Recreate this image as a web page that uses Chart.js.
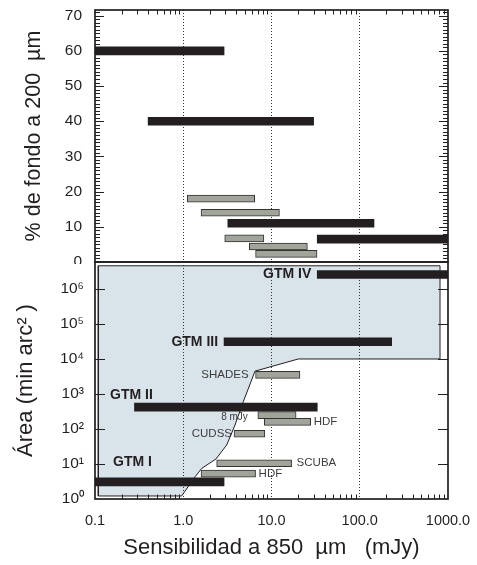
<!DOCTYPE html>
<html>
<head>
<meta charset="utf-8">
<title>Sensibilidad a 850 µm</title>
<script src="https://cdn.jsdelivr.net/npm/chart.js@4.4.1/dist/chart.umd.min.js"></script>
<style>
  html, body { margin: 0; background: #fff; }
  #wrap { position: relative; width: 477px; height: 565px; }
  canvas { position: absolute; left: 0; }
  #topChart { top: 0; }
  #areaChart { top: 260px; }
</style>
</head>
<body>
<div id="wrap">
  <canvas id="topChart" width="477" height="264"></canvas>
  <canvas id="areaChart" width="477" height="305"></canvas>
</div>
<script>
// ---- axes ----
const xTicks      = [0.1, 1, 10, 100, 1000];
const xTickLabels = ['0.1', '1.0', '10.0', '100.0', '1000.0'];
const pctTicks    = [0, 10, 20, 30, 40, 50, 60, 70];
const areaTicks   = [1, 10, 100, 1e3, 1e4, 1e5, 1e6];

// ---- upper panel: % of the 200 um background ----
const pctBlackLevel = [60, 40, 11, 6.5];
const pctBlackFrom  = [0.05, 0.40, 3.2, 33];
const pctBlackTo    = [2.9, 30, 145, 3000];
const pctGrayLevel  = [18, 14, 6.7, 4.4, 2.3];
const pctGrayFrom   = [1.11, 1.59, 2.95, 5.6, 6.6];
const pctGrayTo     = [6.45, 12.3, 8.2, 25.5, 32.8];

// ---- lower panel: survey area ----
const gtmNames    = ['GTM IV', 'GTM III', 'GTM II', 'GTM I'];
const gtmArea     = [2.6e6, 3.1e4, 420, 3.1];
const gtmFrom     = [33, 2.9, 0.28, 0.05];
const gtmTo       = [3000, 230, 33, 2.9];
const surveyNames = ['SHADES', '8 mJy', 'HDF', 'CUDSS', 'SCUBA', 'HDF'];
const surveyArea  = [3500, 250, 160, 73, 10.5, 5.3];
const surveyFrom  = [6.6, 7.0, 8.3, 3.76, 2.39, 1.59];
const surveyTo    = [21, 19, 27.8, 8.4, 16.9, 6.6];

// shaded region (upper and lower boundary)
const regionTopX = [0.109, 812];
const regionTopY = [4.6e6, 4.6e6];
const regionLowX = [0.109, 0.96, 1.36, 1.62, 2.35, 3.11, 3.86, 4.79, 6.5, 20.1, 812];
const regionLowY = [1.22, 1.22, 4.3, 7.5, 13.9, 35, 130, 600, 4500, 1e4, 1e4];

const INK  = '#231f20';
const GRAY = '#a0a499';
const FONT = "'Liberation Sans', Arial, Helvetica, sans-serif";
Chart.defaults.font.family = FONT;
Chart.defaults.color = INK;
Chart.defaults.animation = false;

const SUP = ['\u2070', '\u00b9', '\u00b2', '\u00b3', '\u2074', '\u2075', '\u2076'];
const pts = (xs, ys) => xs.map((x, i) => ({x, y: ys[i]}));
const spans = (from, to, lv) => from.map((f, i) => ({x: [f, to[i]], y: lv[i]}));

// dotted guides only at 1, 10 and 100 mJy
const guideColor = c => (c.tick && c.tick.value > 0.1 && c.tick.value < 1000) ? '#333' : 'rgba(0,0,0,0)';

function xScale(showLabels) {
  return {
    type: 'logarithmic', min: 0.1, max: 1000, beginAtZero: false, stacked: false,
    afterBuildTicks: s => { s.ticks = xTicks.map(v => ({value: v})); },
    grid: { color: guideColor, lineWidth: 1, drawTicks: false },
    border: { display: false, dash: [1, 2] },
    ticks: { display: showLabels, autoSkip: false, maxRotation: 0, padding: 13,
             font: {size: 14.5}, callback: (v, i) => xTickLabels[i] },
  };
}

// frame with inward tick marks
function makeFrame(edge, yMarks) {
  return {
    id: 'frame',
    afterDatasetsDraw(chart) {
      const {ctx, chartArea: a, scales: {x, y}} = chart;
      ctx.save();
      ctx.strokeStyle = INK;
      ctx.lineWidth = 1;
      ctx.beginPath();
      const e = edge === 'top' ? a.top : a.bottom;
      const dir = edge === 'top' ? 1 : -1;
      for (let d = 0.1; d < 1000; d *= 10) {
        for (let m = 2; m < 10; m++) {
          const px = Math.round(x.getPixelForValue(m * d)) + 0.5;
          ctx.moveTo(px, e); ctx.lineTo(px, e + dir * 4.5);
        }
      }
      yMarks.forEach(([v, len]) => {
        const py = Math.round(y.getPixelForValue(v)) + 0.5;
        ctx.moveTo(a.left, py); ctx.lineTo(a.left + len, py);
        ctx.moveTo(a.right, py); ctx.lineTo(a.right - len, py);
      });
      ctx.stroke();
      ctx.lineWidth = 1.7;
      ctx.strokeRect(a.left, a.top, a.right - a.left, a.bottom - a.top);
      ctx.restore();
    }
  };
}

const pctMarks = [];
for (let v = 1; v <= 71; v++) pctMarks.push([v, v % 10 === 0 ? 9 : 5]);
const areaMarks = areaTicks.slice(1).map(v => [v, 10]);

// bar names
const gtmPlace    = [null, null, [0.148, 936], [0.16, 11]];  // null = just left of the bar
const surveySide  = ['left', 'left', 'right', 'left', 'right', 'right'];
const surveyGap   = [7, 10, 3, 2, 5, 3];
const surveyDy    = [0, 2, 0, 0, 0, 0];

const notes = {
  id: 'notes',
  afterDatasetsDraw(chart) {
    const {ctx, scales: {x, y}} = chart;
    ctx.save();
    ctx.textBaseline = 'middle';
    ctx.fillStyle = INK;
    ctx.font = 'bold 14px ' + FONT;
    gtmNames.forEach((name, i) => {
      const p = gtmPlace[i];
      if (p) {
        ctx.textAlign = 'left';
        ctx.fillText(name, x.getPixelForValue(p[0]), y.getPixelForValue(p[1]));
      } else {
        ctx.textAlign = 'right';
        ctx.fillText(name, x.getPixelForValue(gtmFrom[i]) - 6, y.getPixelForValue(gtmArea[i]));
      }
    });
    ctx.fillStyle = '#3d3d3d';
    surveyNames.forEach((name, i) => {
      ctx.font = (name === '8 mJy' ? '10px ' : '11.5px ') + FONT;
      const py = y.getPixelForValue(surveyArea[i]) + surveyDy[i];
      if (surveySide[i] === 'left') {
        ctx.textAlign = 'right';
        ctx.fillText(name, x.getPixelForValue(surveyFrom[i]) - surveyGap[i], py);
      } else {
        ctx.textAlign = 'left';
        ctx.fillText(name, x.getPixelForValue(surveyTo[i]) + surveyGap[i], py);
      }
    });
    ctx.restore();
  }
};

const noPad = s => { s.paddingTop = 0; s.paddingBottom = 0; s.paddingLeft = 0; s.paddingRight = 0; };

const grayBars = data => ({
  type: 'bar', indexAxis: 'y', data, backgroundColor: GRAY, borderColor: '#333',
  borderWidth: 1, borderSkipped: false, barThickness: 7, stack: 'bars', order: 1
});
const blackBars = data => ({
  type: 'bar', indexAxis: 'y', data, backgroundColor: INK, borderWidth: 0,
  borderSkipped: false, barThickness: 8, stack: 'bars', order: 0
});

// ---- upper chart ----
new Chart(document.getElementById('topChart'), {
  type: 'line',
  data: { datasets: [
    grayBars(spans(pctGrayFrom, pctGrayTo, pctGrayLevel)),
    blackBars(spans(pctBlackFrom, pctBlackTo, pctBlackLevel)),
  ]},
  options: {
    responsive: false, events: [],
    layout: { padding: {left: 0, right: 29, top: 10, bottom: 2} },
    plugins: { legend: {display: false}, tooltip: {enabled: false} },
    scales: {
      x: { ...xScale(false), afterFit: s => { s.height = 0; noPad(s); } },
      y: {
        type: 'linear', min: 0, max: 71.6, offset: false,
        afterBuildTicks: s => { s.ticks = pctTicks.map(v => ({value: v})); },
        afterFit: s => { s.width = 95; noPad(s); },
        grid: { display: false, drawTicks: false, offset: false },
        border: { display: false },
        ticks: { padding: 13, font: {size: 15.5} },
        title: { display: true, text: '% de fondo a 200  µm', font: {size: 21.5}, padding: {top: 21} },
      }
    }
  },
  plugins: [makeFrame('top', pctMarks)]
});

// ---- lower chart ----
const outline = [...pts(regionLowX, regionLowY), ...pts(regionTopX, regionTopY).reverse()];
outline.push(outline[0]);

new Chart(document.getElementById('areaChart'), {
  type: 'line',
  data: { datasets: [
    { data: pts(regionTopX, regionTopY), fill: '+1', backgroundColor: '#d9e3ea',
      borderColor: 'rgba(0,0,0,0)', borderWidth: 0, pointRadius: 0, order: 3 },
    { data: pts(regionLowX, regionLowY), fill: false,
      borderColor: 'rgba(0,0,0,0)', borderWidth: 0, pointRadius: 0, order: 3 },
    { data: outline, fill: false, borderColor: INK, borderWidth: 1, pointRadius: 0, order: 2 },
    grayBars(spans(surveyFrom, surveyTo, surveyArea)),
    blackBars(spans(gtmFrom, gtmTo, gtmArea)),
  ]},
  options: {
    responsive: false, events: [],
    layout: { padding: {left: 0, right: 29, top: 2, bottom: 0} },
    plugins: { legend: {display: false}, tooltip: {enabled: false}, filler: {drawTime: 'beforeDraw'} },
    scales: {
      x: {
        ...xScale(true),
        afterFit: s => { s.height = 66; noPad(s); },
        title: { display: true, text: 'Sensibilidad a 850  µm   (mJy)', font: {size: 22}, padding: {bottom: 4} },
      },
      y: {
        type: 'logarithmic', min: 1, max: 5.9e6, offset: false,
        afterBuildTicks: s => { s.ticks = areaTicks.map(v => ({value: v})); },
        afterFit: s => { s.width = 95; noPad(s); },
        grid: { display: false, drawTicks: false, offset: false },
        border: { display: false },
        ticks: { padding: 11, font: {size: 15.5}, callback: v => '10' + SUP[Math.round(Math.log10(v))] },
        title: { display: true, text: 'Área (min arc² )', font: {size: 22}, padding: {top: 13} },
      }
    }
  },
  plugins: [makeFrame('bottom', areaMarks), notes]
});
</script>
</body>
</html>
